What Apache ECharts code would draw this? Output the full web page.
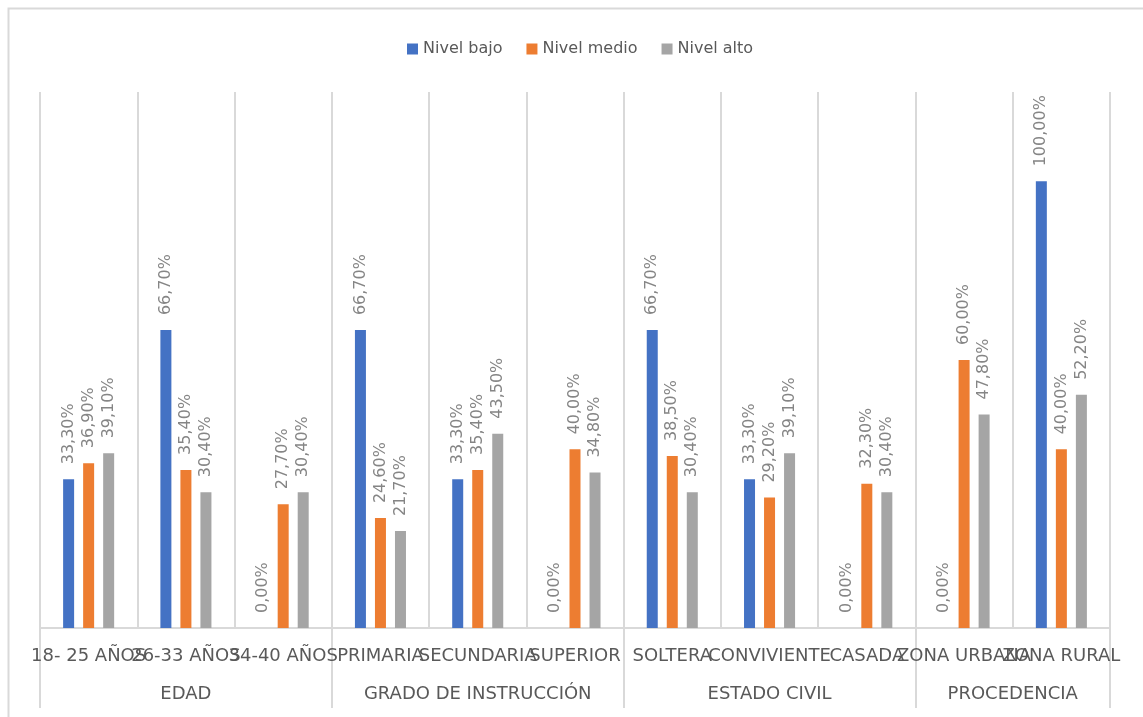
<!DOCTYPE html>
<html>
<head>
<meta charset="utf-8">
<script src="https://cdn.jsdelivr.net/npm/echarts@6/dist/echarts.min.js"></script>
<style>
html,body{margin:0;padding:0;background:#fff;}
#c{width:1143px;height:717px;}
</style>
</head>
<body>
<div id="c"></div>
<script>
const categories = ['18- 25 AÑOS','26-33 AÑOS','34-40 AÑOS','PRIMARIA','SECUNDARIA','SUPERIOR','SOLTERA','CONVIVIENTE','CASADA','ZONA URBANA','ZONA RURAL'];
const groupNames = ['EDAD','GRADO DE INSTRUCCIÓN','ESTADO CIVIL','PROCEDENCIA'];
const groupCenters = [1.5, 4.5, 7.5, 10];
const groupBounds = [0, 3, 6, 9, 11];
const seriesNames = ['Nivel bajo','Nivel medio','Nivel alto'];
const nivelBajo  = [33.3, 66.7, 0, 66.7, 33.3, 0, 66.7, 33.3, 0, 0, 100];
const nivelMedio = [36.9, 35.4, 27.7, 24.6, 35.4, 40.0, 38.5, 29.2, 32.3, 60.0, 40.0];
const nivelAlto  = [39.1, 30.4, 30.4, 21.7, 43.5, 34.8, 30.4, 39.1, 30.4, 47.8, 52.2];
const colors = ['#4472C4','#ED7D31','#A5A5A5'];

const chart = echarts.init(document.getElementById('c'), null, {renderer:'canvas'});
const fmt = p => p.value.toFixed(2).replace('.', ',') + '%';
const mkSeries = (name, data) => ({
  name, type:'bar', data, barWidth:11, barGap:'82%', xAxisIndex:0,
  label:{show:true, position:'top', rotate:90, align:'left', verticalAlign:'middle', distance:15,
    formatter:fmt, color:'#858585', fontSize:16, fontFamily:'DejaVu Sans'}
});
chart.setOption({
  animation:false,
  color:colors,
  textStyle:{fontFamily:'DejaVu Sans'},
  legend:{left:402, top:36, itemWidth:11, itemHeight:11, itemGap:24, icon:'rect',
    textStyle:{color:'#595959', fontSize:16, fontFamily:'DejaVu Sans'}, data:seriesNames},
  grid:{left:40, right:33, top:92, bottom:89, containLabel:false, outerBoundsMode:'none'},
  xAxis:[{
    type:'category', data:categories, position:'bottom',
    axisLine:{show:true, lineStyle:{color:'#d9d9d9', width:2}},
    axisTick:{show:false},
    splitLine:{show:true, interval:0, lineStyle:{color:'#d9d9d9', width:2}},
    axisLabel:{interval:0, margin:19, color:'#595959', fontSize:18, fontFamily:'DejaVu Sans'}
  },{
    type:'value', min:0, max:11, position:'bottom', offset:0,
    axisLine:{show:false},
    splitLine:{show:false},
    axisTick:{show:true, customValues:groupBounds, length:80, lineStyle:{color:'#d9d9d9', width:2}},
    axisLabel:{show:true, customValues:groupCenters, margin:57, color:'#595959', fontSize:18, fontFamily:'DejaVu Sans',
      formatter:v => { const i = groupCenters.indexOf(v); return i >= 0 ? groupNames[i] : ''; }}
  }],
  yAxis:{type:'value', min:0, max:120, show:false},
  series:[mkSeries(seriesNames[0], nivelBajo), mkSeries(seriesNames[1], nivelMedio), mkSeries(seriesNames[2], nivelAlto)],
  graphic:[{type:'rect', left:6, top:6, shape:{width:1160, height:740},
    style:{fill:'none', stroke:'#d9d9d9', lineWidth:2}, silent:true}]
});
</script>
</body>
</html>
